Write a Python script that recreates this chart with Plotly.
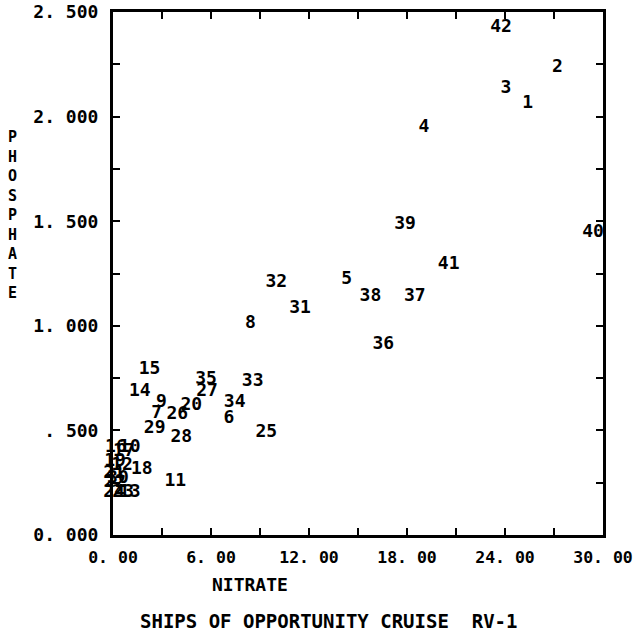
import plotly.graph_objects as go

# Station numbers with nitrate / phosphate concentrations
stations = [str(i) for i in range(1, 43)]
nitrate = [25.39, 27.21, 24.06, 19.03, 14.30, 7.09, 2.67, 8.42, 2.97, 1.03,
           3.82, 0.55, 1.03, 1.64, 2.24, 0.18, 0.67, 1.76, 0.12, 4.79,
           0.06, 0.12, 0.62, 0.06, 9.39, 3.94, 5.76, 4.18, 2.55, 0.30,
           11.45, 10.00, 8.55, 7.45, 5.70, 16.55, 18.48, 15.76, 17.88, 29.39,
           20.55, 23.76]
phosphate = [2.065, 2.237, 2.132, 1.946, 1.219, 0.559, 0.583, 1.009, 0.631, 0.416,
             0.258, 0.330, 0.201, 0.684, 0.789, 0.416, 0.397, 0.311, 0.349, 0.621,
             0.296, 0.249, 0.201, 0.201, 0.492, 0.574, 0.684, 0.464, 0.511, 0.272,
             1.085, 1.205, 0.736, 0.631, 0.741, 0.913, 1.142, 1.142, 1.482, 1.444,
             1.295, 2.428]

# Axis ticks (every minor step gets a tick, labels on major steps)
x_tickvals = [0, 3, 6, 9, 12, 15, 18, 21, 24, 27, 30]
x_ticktext = ["0. 00", "", "6. 00", "", "12. 00", "", "18. 00", "", "24. 00", "", "30. 00"]
y_tickvals = [0, 0.25, 0.5, 0.75, 1.0, 1.25, 1.5, 1.75, 2.0, 2.25, 2.5]
y_ticktext = ["0. 000", "", ". 500", "", "1. 000", "", "1. 500", "", "2. 000", "", "2. 500"]

FONT = "DejaVu Sans Mono"
mono = dict(family=FONT, size=18, color="black", weight="bold")

fig = go.Figure()
fig.add_trace(go.Scatter(
    x=nitrate, y=phosphate, text=stations, mode="text",
    textposition="middle center", textfont=mono, cliponaxis=False,
    hoverinfo="skip", showlegend=False,
))

axis_common = dict(
    showline=True, linecolor="black", linewidth=3, mirror="ticks",
    ticks="inside", ticklen=7, tickwidth=2, tickcolor="black",
    showgrid=False, zeroline=False, tickmode="array",
    ticklabeloverflow="allow", automargin=False,
)
fig.update_xaxes(range=[0, 30], tickvals=x_tickvals, ticktext=x_ticktext,
                 ticklabelstandoff=5, tickfont=dict(mono, size=16.5), **axis_common)
fig.update_yaxes(range=[0, 2.5], tickvals=y_tickvals, ticktext=y_ticktext,
                 ticklabelstandoff=8, tickfont=mono, **axis_common)

fig.add_annotation(text="NITRATE", xref="paper", yref="paper",
                   x=0.28, y=-0.0937, xanchor="center", yanchor="middle",
                   showarrow=False, font=mono)
fig.add_annotation(text="SHIPS OF OPPORTUNITY CRUISE  RV-1", xref="paper", yref="paper",
                   x=0.44, y=-0.1644, xanchor="center", yanchor="middle",
                   showarrow=False, font=dict(mono, size=19))
fig.add_annotation(text="<br>".join("PHOSPHATE"), xref="paper", yref="paper",
                   x=-0.205, y=0.612, xanchor="center", yanchor="middle",
                   showarrow=False, font=dict(family=FONT, size=15, color="black", weight="bold"))

fig.update_layout(
    width=633, height=634,
    margin=dict(l=113, r=30, t=12, b=99),
    plot_bgcolor="white", paper_bgcolor="white",
)

fig.write_html("out.html")
